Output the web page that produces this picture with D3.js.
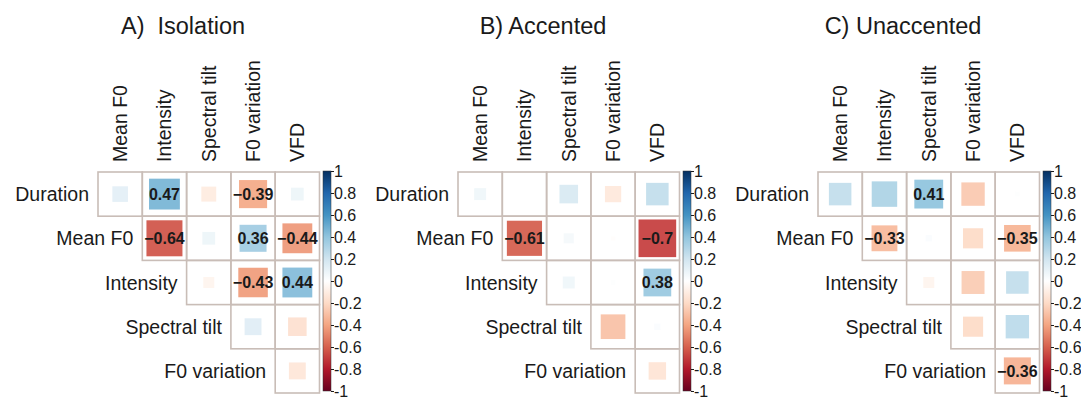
<!DOCTYPE html>
<html>
<head>
<meta charset="utf-8">
<script src="https://cdn.jsdelivr.net/npm/d3@7"></script>
<style>
  html, body { margin: 0; padding: 0; background: #fff; }
  text { font-family: "Liberation Sans", Arial, sans-serif; fill: #1a1a1a; }
</style>
</head>
<body>
<div id="root"></div>
<script>
const rowVars = ["Duration", "Mean F0", "Intensity", "Spectral tilt", "F0 variation"];
const colVars = ["Mean F0", "Intensity", "Spectral tilt", "F0 variation", "VFD"];
const panelTitles = ["A)\u00a0 Isolation", "B) Accented", "C) Unaccented"];

// upper triangle correlations, row i holds columns i..4
const isolation = [
  [0.12, 0.47, -0.11, -0.39, 0.08],
  [null, -0.64, 0.08, 0.36, -0.44],
  [null, null, -0.06, -0.43, 0.44],
  [null, null, null, 0.14, -0.17],
  [null, null, null, null, -0.14]
];
const isolationSig = [
  [0, 1, 0, 1, 0],
  [0, 1, 0, 1, 1],
  [0, 0, 0, 1, 1],
  [0, 0, 0, 0, 0],
  [0, 0, 0, 0, 0]
];
const accented = [
  [0.07, 0, 0.17, -0.13, 0.25],
  [null, -0.61, 0.05, -0.01, -0.7],
  [null, null, 0.07, 0.01, 0.38],
  [null, null, null, -0.3, 0.02],
  [null, null, null, null, -0.15]
];
const accentedSig = [
  [0, 0, 0, 0, 0],
  [0, 1, 0, 0, 1],
  [0, 0, 0, 0, 1],
  [0, 0, 0, 0, 0],
  [0, 0, 0, 0, 0]
];
const unaccented = [
  [0.25, 0.32, 0.41, -0.27, 0.01],
  [null, -0.33, 0.02, -0.2, -0.35],
  [null, null, -0.06, -0.26, 0.25],
  [null, null, null, -0.2, 0.27],
  [null, null, null, null, -0.36]
];
const unaccentedSig = [
  [0, 0, 1, 0, 0],
  [0, 1, 0, 0, 1],
  [0, 0, 0, 0, 0],
  [0, 0, 0, 0, 0],
  [0, 0, 0, 0, 1]
];
const colorbarTicks = [-1, -0.8, -0.6, -0.4, -0.2, 0, 0.2, 0.4, 0.6, 0.8, 1];
const rdbu = ["#67001F", "#B2182B", "#D6604D", "#F4A582", "#FDDBC7", "#FFFFFF",
              "#D1E5F0", "#92C5DE", "#4393C3", "#2166AC", "#053061"];

const panels = [
  {title: panelTitles[0], r: isolation, sig: isolationSig},
  {title: panelTitles[1], r: accented, sig: accentedSig},
  {title: panelTitles[2], r: unaccented, sig: unaccentedSig}
];

const width = 1081, height = 399;
const svg = d3.select("#root").append("svg")
    .attr("width", width)
    .attr("height", height);

const x = d3.scaleBand().domain(colVars).range([98, 319.5]);
const y = d3.scaleBand().domain(rowVars).range([172, 393]);
const side = d3.scaleSqrt().domain([0, 1]).range([0, 45]);
const color = d3.scaleLinear().domain(colorbarTicks).range(rdbu);
const cbar = d3.scaleLinear().domain([-1, 1]).range([391, 171]);
const fmt = d3.format(".2~f");
const tickFmt = d => d3.format("~g")(d).replace("\u2212", "-");

// gradient for the colour legend
const grad = svg.append("defs").append("linearGradient")
    .attr("id", "rdbu-grad")
    .attr("x1", 0).attr("y1", 1).attr("x2", 0).attr("y2", 0);
grad.selectAll("stop")
    .data(colorbarTicks)
    .enter().append("stop")
    .attr("offset", d => (d + 1) / 2)
    .attr("stop-color", d => color(d));

panels.forEach(function(p, k) {
    const g = svg.append("g").attr("transform", `translate(${k * 360},0)`);

    g.append("text")
        .attr("x", 183).attr("y", 34)
        .attr("text-anchor", "middle")
        .style("font-size", "23.5px")
        .text(p.title);

    // column labels
    g.selectAll(".col-label")
        .data(colVars)
        .enter().append("text")
        .attr("class", "col-label")
        .attr("transform", d => `translate(${x(d) + x.bandwidth() / 2 + 7},162) rotate(-90)`)
        .style("font-size", "19.5px")
        .text(d => d);

    // row labels
    g.selectAll(".row-label")
        .data(rowVars)
        .enter().append("text")
        .attr("class", "row-label")
        .attr("x", (d, i) => x(colVars[i]) - 9)
        .attr("y", d => y(d) + y.bandwidth() / 2)
        .attr("dy", "0.36em")
        .attr("text-anchor", "end")
        .style("font-size", "19.5px")
        .text(d => d);

    const cells = [];
    p.r.forEach(function(row, i) {
        row.forEach(function(v, j) {
            if (v !== null) cells.push({row: rowVars[i], col: colVars[j], v: v, sig: p.sig[i][j]});
        });
    });

    // grid
    g.selectAll(".cell")
        .data(cells)
        .enter().append("rect")
        .attr("class", "cell")
        .attr("x", d => x(d.col))
        .attr("y", d => y(d.row))
        .attr("width", x.bandwidth())
        .attr("height", y.bandwidth())
        .style("fill", "none")
        .style("stroke", "#c9bdb7")
        .style("stroke-width", 1.6);

    // squares
    g.selectAll(".sq")
        .data(cells)
        .enter().append("rect")
        .attr("class", "sq")
        .attr("x", d => x(d.col) + (x.bandwidth() - side(Math.abs(d.v))) / 2)
        .attr("y", d => y(d.row) + (y.bandwidth() - side(Math.abs(d.v))) / 2)
        .attr("width", d => side(Math.abs(d.v)))
        .attr("height", d => side(Math.abs(d.v)))
        .style("fill", d => color(d.v))
        .style("opacity", 0.92);

    // significant values
    g.selectAll(".val")
        .data(cells.filter(d => d.sig))
        .enter().append("text")
        .attr("class", "val")
        .attr("x", d => x(d.col) + x.bandwidth() / 2)
        .attr("y", d => y(d.row) + y.bandwidth() / 2)
        .attr("dy", "0.36em")
        .attr("text-anchor", "middle")
        .style("font-size", "16px")
        .style("font-weight", "bold")
        .text(d => fmt(d.v));

    // colour legend
    g.append("rect")
        .attr("x", 323).attr("y", 171)
        .attr("width", 8).attr("height", 220)
        .style("fill", "url(#rdbu-grad)")
        .style("stroke", "#333")
        .style("stroke-width", 0.5);

    const axis = g.append("g")
        .attr("transform", "translate(331,0)")
        .call(d3.axisRight(cbar).tickValues(colorbarTicks).tickSize(3).tickPadding(0).tickFormat(tickFmt));
    axis.select(".domain").remove();
    axis.selectAll("line").style("stroke", "#1a1a1a");
    axis.selectAll("text")
        .style("font-size", "16px")
        .style("font-family", "'Liberation Sans', Arial, sans-serif")
        .style("fill", "#1a1a1a");
});
</script>
</body>
</html>
